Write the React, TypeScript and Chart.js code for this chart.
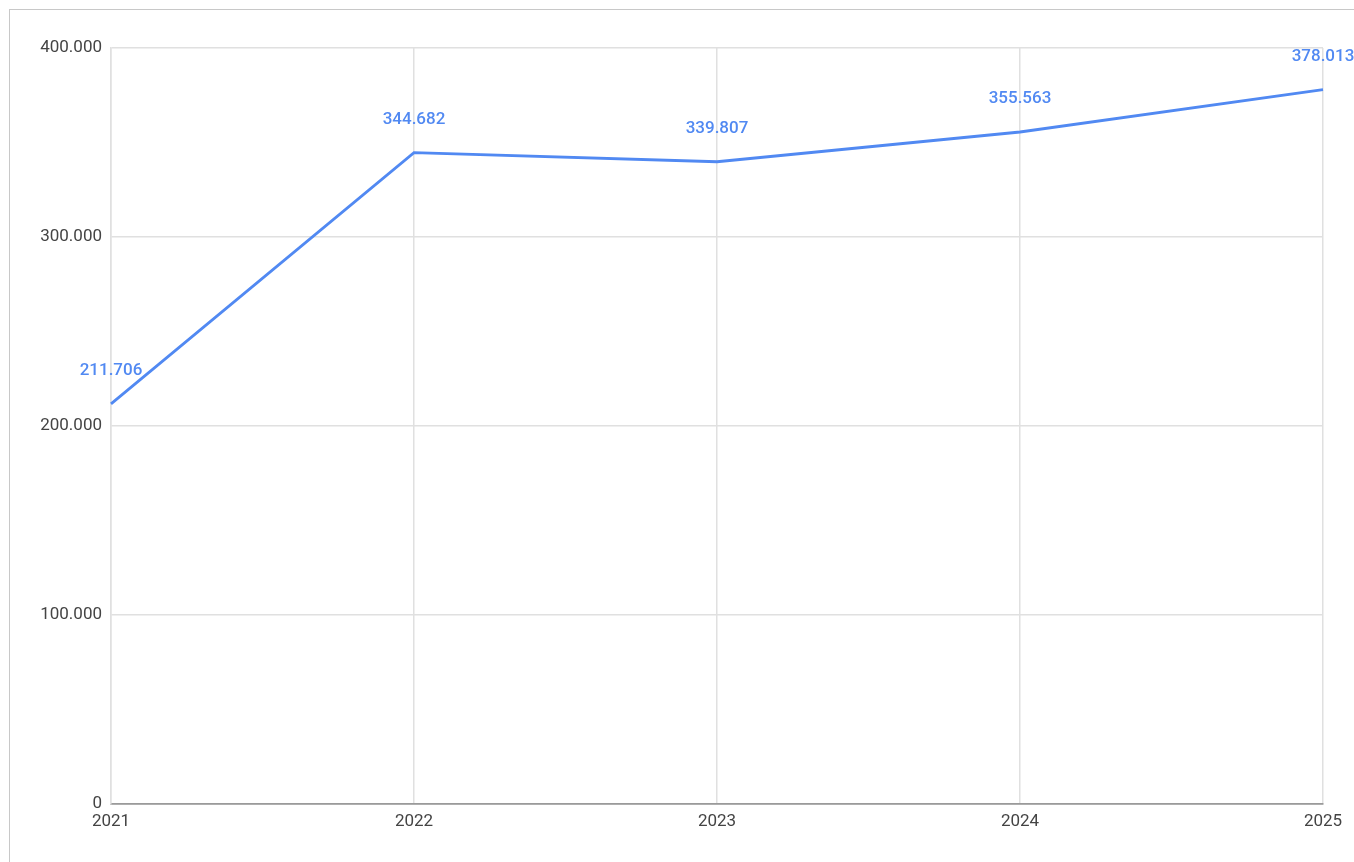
import React, { useEffect, useRef } from "react";
import { Chart, registerables } from "chart.js";

Chart.register(...registerables);

const years = ["2021", "2022", "2023", "2024", "2025"];
const values = [211706, 344682, 339807, 355563, 378013];
const yTicks = [0, 100000, 200000, 300000, 400000];

const fmt = (v: number) => new Intl.NumberFormat("de-DE").format(v);

const LINE_COLOR = "#5189f2";
const FONT = "Roboto, 'Liberation Sans', Arial, sans-serif";

const labelPlugin = {
  id: "pointLabels",
  afterDatasetsDraw(chart: any) {
    const ctx = chart.ctx;
    const meta = chart.getDatasetMeta(0);
    ctx.save();
    ctx.font = `500 17px ${FONT}`;
    ctx.fillStyle = LINE_COLOR;
    ctx.textAlign = "center";
    ctx.textBaseline = "middle";
    meta.data.forEach((pt: any, i: number) => {
      ctx.fillText(fmt(values[i]), pt.x, pt.y - 33);
    });
    ctx.restore();
  },
};

export default function App() {
  const ref = useRef<HTMLCanvasElement | null>(null);
  useEffect(() => {
    if (!ref.current) return;
    const chart = new Chart(ref.current, {
      type: "line",
      data: {
        labels: years,
        datasets: [
          {
            data: values,
            borderColor: LINE_COLOR,
            borderWidth: 2.8,
            pointRadius: 0,
            tension: 0,
            fill: false,
          },
        ],
      },
      options: {
        animation: false,
        responsive: false,
        devicePixelRatio: 1,
        layout: { padding: { top: 48, right: 31, bottom: 0, left: 0 } },
        plugins: { legend: { display: false }, tooltip: { enabled: false } },
        scales: {
          x: {
            type: "category",
            offset: false,
            grid: { color: "#e0e0e0", lineWidth: 1.5, drawTicks: false },
            border: { color: "#9a9a9a", width: 1.8 },
            ticks: {
              padding: 8,
              color: "#444",
              font: { family: FONT, size: 17 },
              maxRotation: 0,
              autoSkip: false,
            },
            afterFit: (s: any) => {
              s.height = 58;
            },
          },
          y: {
            min: 0,
            max: 400000,
            afterBuildTicks: (s: any) => {
              s.ticks = yTicks.map((v) => ({ value: v }));
            },
            grid: { color: "#e0e0e0", lineWidth: 1.5, drawTicks: false },
            border: { color: "#e0e0e0", width: 1.5 },
            ticks: {
              padding: 9,
              color: "#444",
              font: { family: FONT, size: 17 },
              callback: (v: any) => fmt(Number(v)),
            },
            afterFit: (s: any) => {
              s.width = 111;
            },
          },
        },
      },
      plugins: [labelPlugin],
    });
    return () => chart.destroy();
  }, []);

  return (
    <div
      style={{
        position: "fixed",
        left: 0,
        top: 0,
        width: 1354,
        height: 862,
        overflow: "hidden",
        background: "#fff",
      }}
    >
      <div
        style={{
          position: "absolute",
          left: 9,
          top: 9,
          width: 1400,
          height: 900,
          border: "1px solid #c8c8c8",
        }}
      />
      <canvas
        ref={ref}
        width={1354}
        height={862}
        style={{ position: "absolute", left: 0, top: 0, width: 1354, height: 862 }}
      />
    </div>
  );
}
